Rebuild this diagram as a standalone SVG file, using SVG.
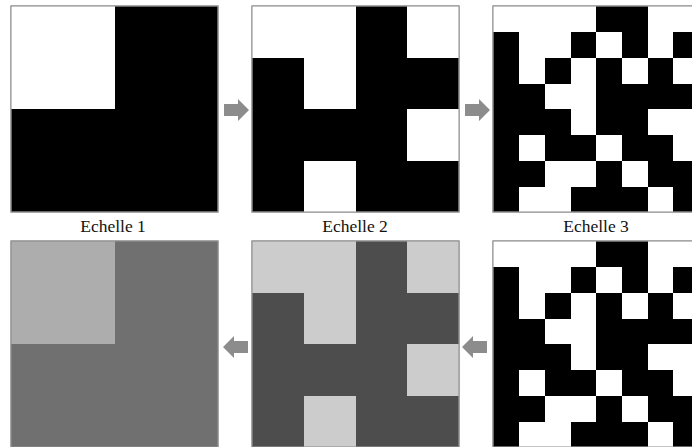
<svg xmlns="http://www.w3.org/2000/svg" xmlns:xlink="http://www.w3.org/1999/xlink" width="692" height="447" viewBox="0 0 692 447">
<style>
.bk{fill:#000;stroke:#8a8a8a;stroke-width:1}
.wh{fill:#fff;shape-rendering:crispEdges}
.d1{fill:#707070;stroke:#8a8a8a;stroke-width:1}
.l1{fill:#adadad;shape-rendering:crispEdges}
.d2{fill:#4d4d4d;stroke:#8a8a8a;stroke-width:1}
.l2{fill:#cccccc;shape-rendering:crispEdges}
.frame{fill:none;stroke:#8a8a8a;stroke-width:1}
.lbl{font-family:"Liberation Serif","Times New Roman",serif;font-size:17.5px;fill:#111;text-anchor:middle}
.arr{fill:#8c8c8c}
</style>
<defs>
<g id="g3cells">
<rect class="bk" x="493" y="6" width="206" height="206"/>
<g class="wh">
<rect x="493" y="6" width="103" height="26"/>
<rect x="648" y="6" width="51" height="26"/>
<rect x="519" y="32" width="52" height="26"/>
<rect x="596" y="32" width="26" height="26"/>
<rect x="648" y="32" width="25" height="26"/>
<rect x="519" y="58" width="26" height="26"/>
<rect x="571" y="58" width="25" height="26"/>
<rect x="622" y="58" width="26" height="26"/>
<rect x="673" y="58" width="26" height="26"/>
<rect x="545" y="84" width="51" height="25"/>
<rect x="571" y="109" width="25" height="26"/>
<rect x="648" y="109" width="51" height="26"/>
<rect x="519" y="135" width="26" height="26"/>
<rect x="596" y="135" width="26" height="26"/>
<rect x="673" y="135" width="26" height="26"/>
<rect x="545" y="161" width="51" height="26"/>
<rect x="622" y="161" width="26" height="26"/>
<rect x="519" y="187" width="52" height="25"/>
<rect x="648" y="187" width="25" height="25"/>
</g>
<rect class="frame" x="493" y="6" width="206" height="206"/>
</g>
</defs>

<g id="echelle1-binary">
<rect class="bk" x="11" y="6" width="207" height="206"/>
<rect class="wh" x="11" y="6" width="104" height="103"/>
<rect class="frame" x="11" y="6" width="207" height="206"/>
</g>

<g id="echelle2-binary">
<rect class="bk" x="252" y="6" width="207" height="206"/>
<g class="wh">
<rect x="252" y="6" width="104" height="52"/>
<rect x="407" y="6" width="52" height="52"/>
<rect x="304" y="58" width="52" height="51"/>
<rect x="407" y="109" width="52" height="52"/>
<rect x="304" y="161" width="52" height="51"/>
</g>
<rect class="frame" x="252" y="6" width="207" height="206"/>
</g>

<g id="echelle3-binary">
<use xlink:href="#g3cells" href="#g3cells"/>
</g>

<g id="labels">
<text class="lbl" x="113" y="232">Echelle 1</text>
<text class="lbl" x="355" y="232">Echelle 2</text>
<text class="lbl" x="596" y="232">Echelle 3</text>
</g>

<g id="echelle1-gray">
<rect class="d1" x="11" y="241" width="207" height="206"/>
<rect class="l1" x="11" y="241" width="104" height="103"/>
<rect class="frame" x="11" y="241" width="207" height="206"/>
</g>

<g id="echelle2-gray">
<rect class="d2" x="252" y="241" width="207" height="206"/>
<g class="l2">
<rect x="252" y="241" width="104" height="52"/>
<rect x="407" y="241" width="52" height="52"/>
<rect x="304" y="293" width="52" height="51"/>
<rect x="407" y="344" width="52" height="52"/>
<rect x="304" y="396" width="52" height="51"/>
</g>
<rect class="frame" x="252" y="241" width="207" height="206"/>
</g>

<g id="echelle3-binary-bottom">
<use xlink:href="#g3cells" href="#g3cells" y="235"/>
</g>

<g id="connectors">
<polygon class="arr" points="224,104 238,104 238,99 249,110 238,121 238,116 224,116"/>
<polygon class="arr" points="465,104 479,104 479,99 490,110 479,121 479,116 465,116"/>
<polygon class="arr" points="223,347 234,336 234,341 248,341 248,353 234,353 234,358"/>
<polygon class="arr" points="462,347 473,336 473,341 487,341 487,353 473,353 473,358"/>
</g>
</svg>
